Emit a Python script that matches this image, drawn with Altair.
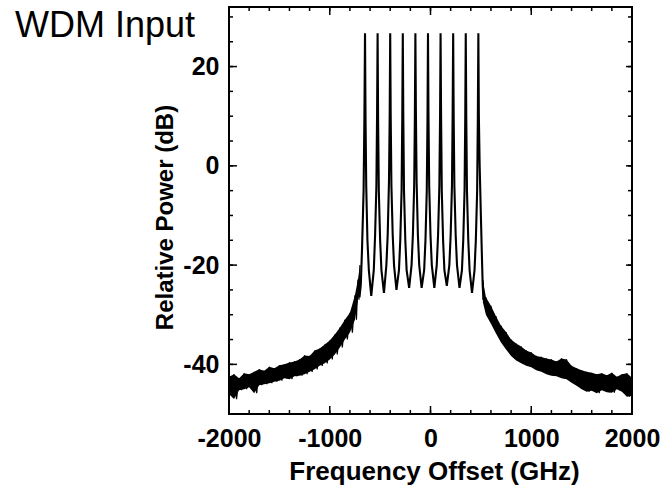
import altair as alt
import pandas as pd

# ---- data ----
# central WDM channel region (frequency offset GHz, relative power dB)
center_freq = [
    -705, -692, -680, -664, -656, -650, -645, -638, -626, -612, -588,
    -563, -550, -537, -530, -525, -520, -513, -500, -487, -462,
    -438, -425, -412, -405, -400, -395, -388, -375, -362, -338,
    -313, -300, -287, -280, -275, -270, -263, -250, -237, -212,
    -188, -175, -162, -155, -150, -145, -138, -125, -112, -88,
    -63, -50, -37, -30, -25, -20, -13, 0, 13, 38,
    62, 75, 88, 95, 100, 105, 112, 125, 138, 162,
    187, 200, 213, 220, 225, 230, 237, 250, 263, 288,
    312, 325, 338, 345, 350, 355, 362, 375, 388, 412,
    437, 450, 463, 470, 475, 480, 488, 500, 510, 518, 525,
]
center_power = [
    -26.5, -24, -17, -5, 10, 26.7, 10, -4, -15, -21, -26.2,
    -21, -14, -4, 11, 26.7, 9, -5, -15, -21, -25.6,
    -20, -14, -3, 10, 26.7, 10, -4, -14, -20, -25.0,
    -21, -15, -5, 10, 26.7, 10, -5, -15, -21, -24.6,
    -20, -14, -4, 10, 26.7, 11, -3, -14, -20, -24.6,
    -21, -15, -5, 9, 26.7, 10, -4, -14, -20, -24.6,
    -20, -14, -4, 10, 26.7, 10, -5, -15, -21, -24.2,
    -20, -14, -4, 11, 26.7, 10, -4, -14, -20, -24.6,
    -21, -15, -5, 10, 26.7, 10, -5, -15, -21, -25.6,
    -21, -15, -5, 10, 26.7, 10, 0, -10, -18, -24, -27,
]

# noisy ASE wings: upper / lower envelope of the noise band
wing_freq = [
    -2000, -1950, -1900, -1850, -1800, -1750, -1700, -1650, -1600, -1550,
    -1500, -1450, -1400, -1350, -1300, -1250, -1200, -1150, -1100, -1050,
    -1000, -950, -900, -850, -800, -750, -720, -700,
    520, 550, 600, 650, 700, 750, 800, 850, 900, 950,
    1000, 1050, 1100, 1150, 1200, 1250, 1300, 1350, 1400, 1450,
    1500, 1550, 1600, 1650, 1700, 1750, 1800, 1850, 1900, 1950, 2000,
]
wing_upper = [
    -42.5, -42.0, -42.8, -41.8, -42.0, -41.5, -41.0, -41.3, -40.5, -40.8,
    -40.2, -40.0, -39.6, -39.4, -39.0, -38.2, -38.3, -37.2, -36.8, -36.0,
    -35.2, -34.0, -32.6, -31.0, -29.6, -26.1, -22.9, -20.0,
    -23.0, -26.5, -28.2, -30.3, -32.2, -33.5, -35.0, -35.8, -36.4, -37.2,
    -37.6, -38.3, -38.5, -38.8, -39.0, -39.4, -38.8, -39.0, -40.3, -40.8,
    -41.2, -41.5, -41.7, -42.0, -41.8, -42.2, -41.7, -42.5, -42.0, -41.8, -42.7,
]
wing_lower = [
    -46.0, -47.0, -45.2, -45.0, -44.6, -45.8, -44.2, -44.0, -43.8, -43.5,
    -43.3, -42.8, -43.0, -42.4, -42.3, -42.0, -41.5, -41.0, -40.3, -39.8,
    -39.0, -38.0, -36.6, -35.0, -33.6, -31.0, -27.0, -25.0,
    -27.5, -30.0, -31.8, -33.8, -35.6, -37.0, -38.3, -39.2, -39.8, -40.3,
    -40.6, -41.2, -41.5, -42.0, -42.3, -42.4, -42.8, -43.0, -43.7, -44.3,
    -45.0, -45.5, -45.3, -45.8, -45.2, -45.6, -45.7, -45.0, -45.5, -46.5, -46.3,
]
wing_side = ["L"] * 28 + ["R"] * 31

x_major = [-2000, -1000, 0, 1000, 2000]
x_minor = [-2000, -1800, -1600, -1400, -1200, -1000, -800, -600, -400, -200,
           0, 200, 400, 600, 800, 1000, 1200, 1400, 1600, 1800, 2000]
y_major = [-40, -20, 0, 20]
y_minor = [-50, -45, -40, -35, -30, -25, -20, -15, -10, -5,
           0, 5, 10, 15, 20, 25, 30]

X_DOMAIN = [-2000, 2000]
Y_DOMAIN = [-50, 32]

W, H = 403, 407
FONT = "Liberation Sans"

center_df = pd.DataFrame({"f": center_freq, "p": center_power})
wing_df = pd.DataFrame({"f": wing_freq, "hi": wing_upper, "lo": wing_lower, "side": wing_side})

# zig-zag through the envelope to give the noisy texture
zz = []
for i in range(len(wing_freq)):
    zz.append({"f": wing_freq[i], "p": wing_upper[i], "side": wing_side[i], "o": 2 * i})
    if i + 1 < len(wing_freq) and wing_side[i] == wing_side[i + 1]:
        zz.append({"f": (wing_freq[i] + wing_freq[i + 1]) / 2,
                   "p": wing_lower[i], "side": wing_side[i], "o": 2 * i + 1})
zz_df = pd.DataFrame(zz)

xs = alt.Scale(domain=X_DOMAIN, nice=False, zero=False)
ys = alt.Scale(domain=Y_DOMAIN, nice=False, zero=False)

x_axis = alt.Axis(
    values=x_major, ticks=False, domain=False, grid=False,
    labelFont=FONT, labelFontSize=25, labelFontWeight="bold", labelColor="black",
    labelPadding=12, labelFlush=False, labelOverlap=False,
    labelExpr="'' + datum.value",
    title="Frequency Offset (GHz)", titleFont=FONT, titleFontSize=26,
    titleFontWeight="bold", titleColor="black", titleBaseline="alphabetic",
    titleX=205, titleY=65,
)
y_axis = alt.Axis(
    values=y_major, ticks=False, domain=False, grid=False,
    labelFont=FONT, labelFontSize=25, labelFontWeight="bold", labelColor="black",
    labelPadding=10, labelFlush=False, labelOverlap=False,
    labelExpr="'' + datum.value",
    title="Relative Power (dB)", titleFont=FONT, titleFontSize=24,
    titleFontWeight="bold", titleColor="black", titleBaseline="alphabetic",
    titleAngle=270, titleX=-57, titleY=210,
)

X = lambda field: alt.X(field, scale=xs, axis=x_axis)
Y = lambda field: alt.Y(field, scale=ys, axis=y_axis)

band = alt.Chart(wing_df).mark_area(color="black", opacity=1).encode(
    x=X("f:Q"), y=Y("hi:Q"), y2="lo:Q", detail="side:N",
)

zig = alt.Chart(zz_df).mark_line(color="black", strokeWidth=1.2).encode(
    x=X("f:Q"), y=Y("p:Q"), detail="side:N", order="o:Q",
)

peaks = alt.Chart(center_df).mark_line(color="black", strokeWidth=2.1).encode(
    x=X("f:Q"), y=Y("p:Q"),
)

def xticks(vals, length, top):
    d = pd.DataFrame({"v": vals})
    if top:
        yy, yy2 = alt.value(0), alt.value(length)
    else:
        yy, yy2 = alt.value(H), alt.value(H - length)
    return alt.Chart(d).mark_rule(color="black", strokeWidth=1.5).encode(
        x=X("v:Q"), y=yy, y2=yy2)

def yticks(vals, length, right):
    d = pd.DataFrame({"v": vals})
    if right:
        xx, xx2 = alt.value(W), alt.value(W - length)
    else:
        xx, xx2 = alt.value(0), alt.value(length)
    return alt.Chart(d).mark_rule(color="black", strokeWidth=1.5).encode(
        y=Y("v:Q"), x=xx, x2=xx2)

ticks = [
    xticks(x_minor, 4, False), xticks(x_minor, 4, True),
    xticks(x_major, 8, False), xticks(x_major, 8, True),
    yticks(y_minor, 4, False), yticks(y_minor, 4, True),
    yticks(y_major, 8, False), yticks(y_major, 6, True),
]

title = alt.Chart(pd.DataFrame({"t": ["WDM Input"]})).mark_text(
    font=FONT, fontSize=36, color="black", align="left", baseline="alphabetic"
).encode(x=alt.value(-214), y=alt.value(30), text="t:N")

chart = alt.layer(band, zig, peaks, *ticks, title).properties(
    width=W, height=H,
    autosize=alt.AutoSizeParams(type="none"),
    padding={"left": 229, "top": 7, "right": 33, "bottom": 74},
).configure(background="white").configure_view(stroke="black", strokeWidth=2)

chart.save("out.html", embed_options={"renderer": "svg", "actions": False})
